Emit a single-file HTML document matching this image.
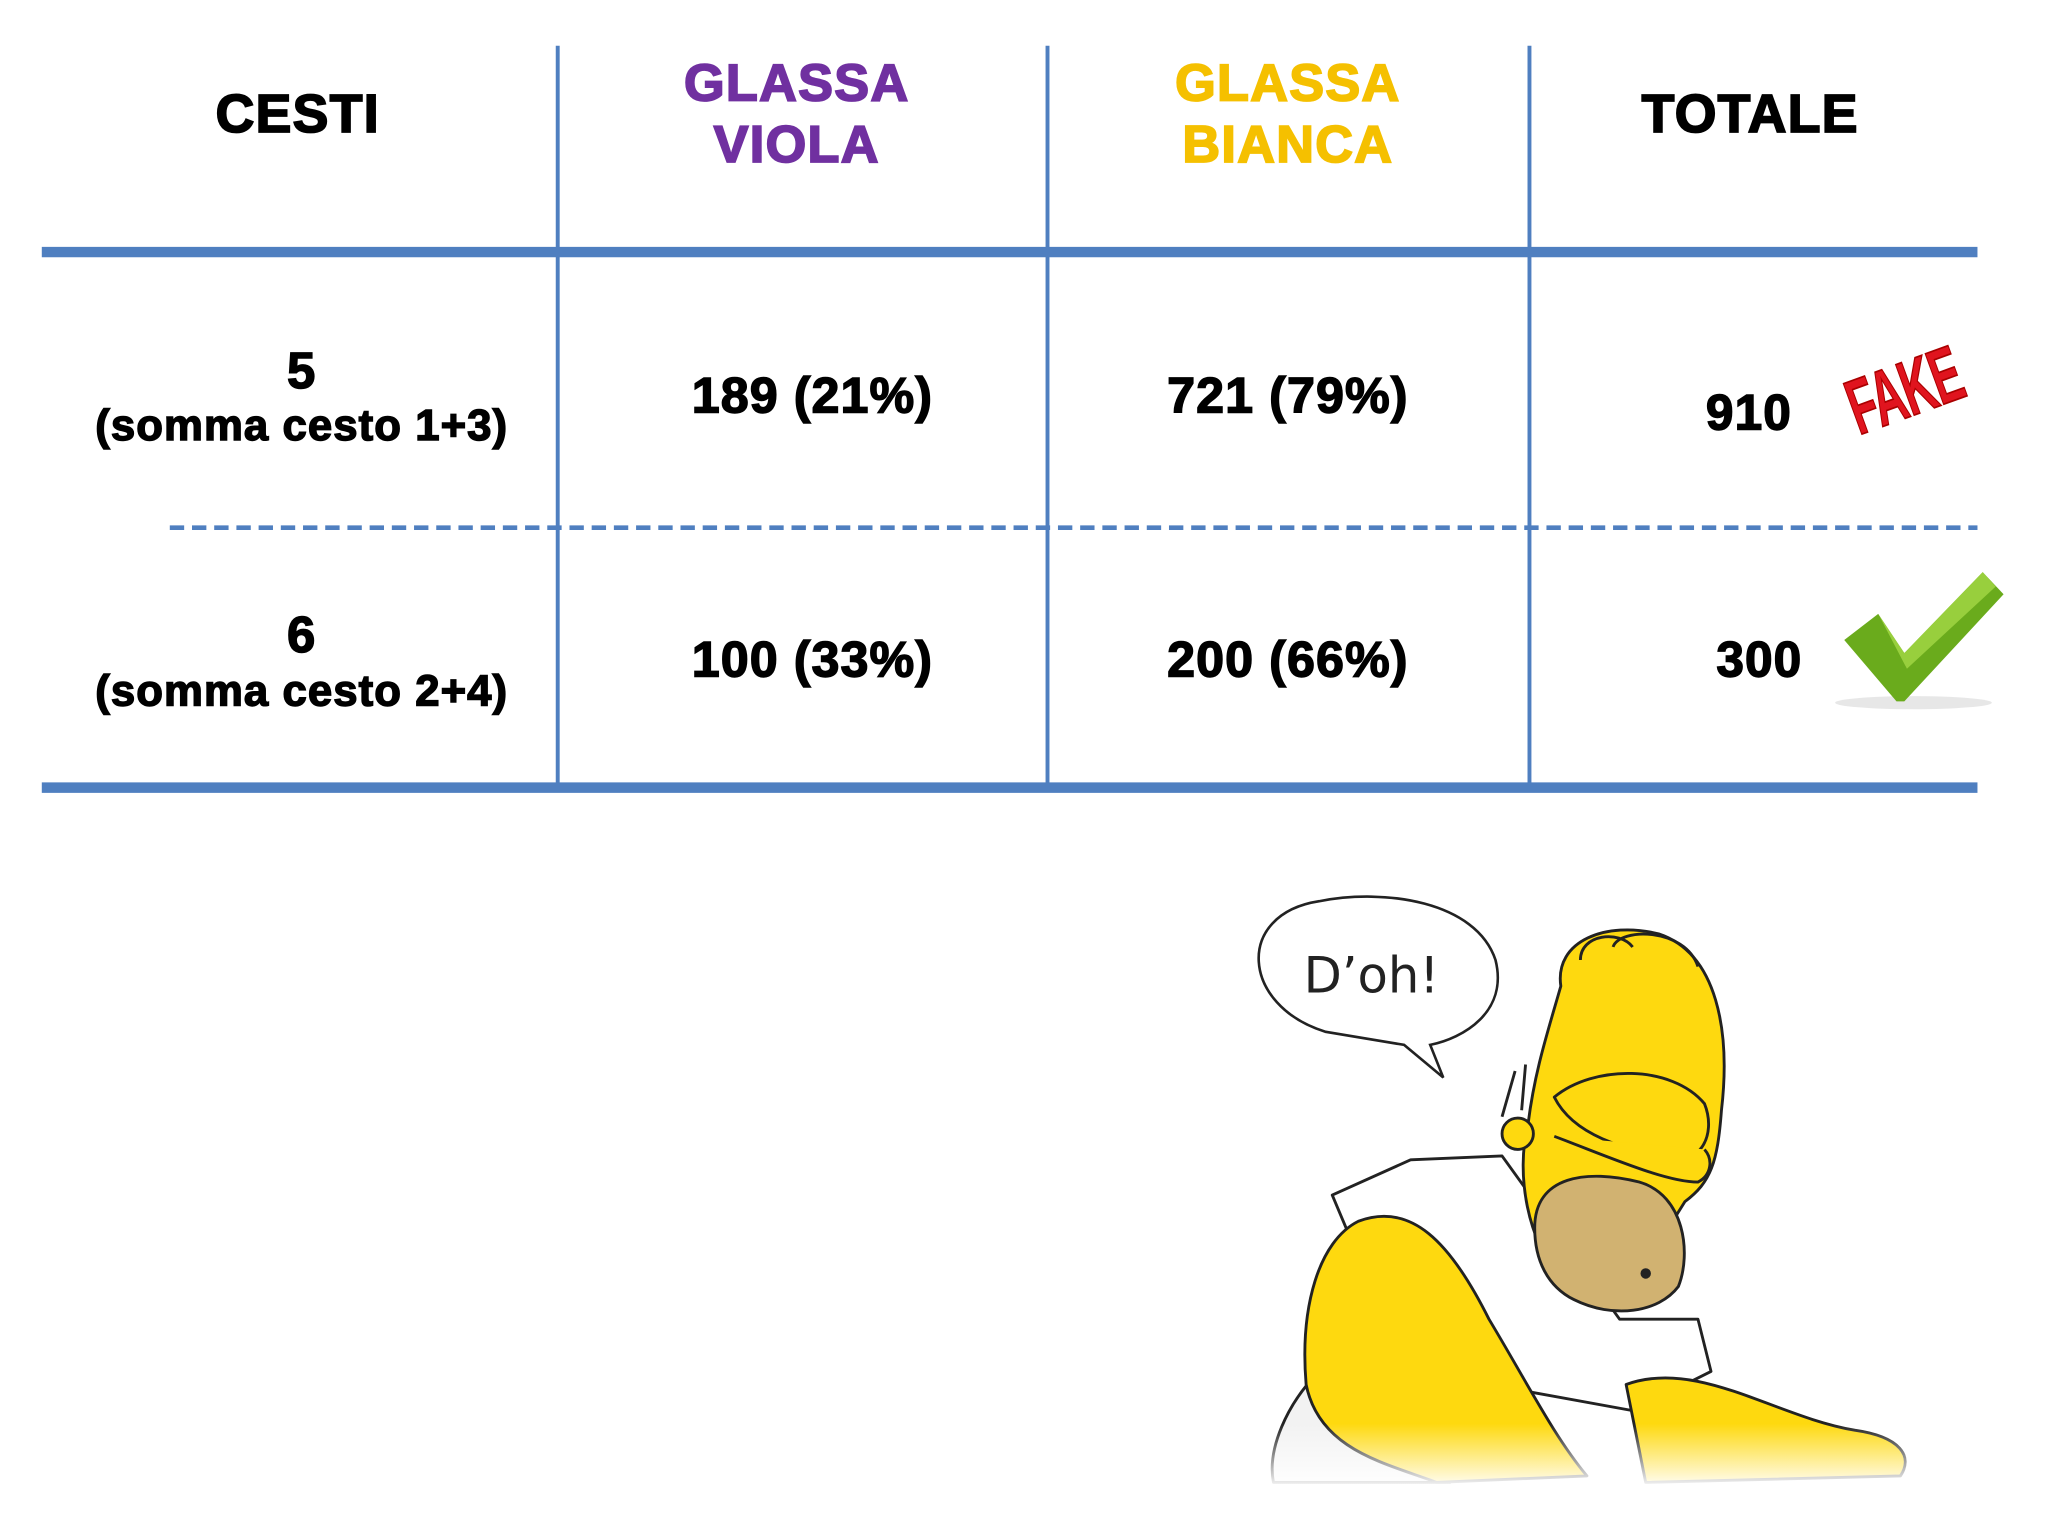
<!DOCTYPE html>
<html><head><meta charset="utf-8"><style>
html,body{margin:0;padding:0;background:#fff}
svg{display:block}
text{font-family:"Liberation Sans",Arial,sans-serif;font-weight:bold;text-anchor:middle}
</style></head><body>
<svg width="2048" height="1536" viewBox="0 0 1568 1176" preserveAspectRatio="none" xmlns="http://www.w3.org/2000/svg">
<rect width="1568" height="1176" fill="#fff"/>
<g stroke="#4f7fc0">
<line x1="427" y1="35" x2="427" y2="600" stroke-width="3"/>
<line x1="802" y1="35" x2="802" y2="600" stroke-width="3"/>
<line x1="1171" y1="35" x2="1171" y2="600" stroke-width="3"/>
<line x1="32" y1="193" x2="1514" y2="193" stroke-width="8"/>
<line x1="32" y1="603" x2="1514" y2="603" stroke-width="8"/>
<line x1="130" y1="404" x2="1514" y2="404" stroke-width="3.5" stroke-dasharray="11,6"/>
</g>
<g font-size="40" stroke-width="1.4" letter-spacing="1">
<text x="228" y="101" fill="#000" stroke="#000" font-size="41">CESTI</text>
<text x="610" y="77" fill="#7030a0" stroke="#7030a0">GLASSA</text>
<text x="610" y="124" fill="#7030a0" stroke="#7030a0">VIOLA</text>
<text x="986" y="77" fill="#f5c000" stroke="#f5c000">GLASSA</text>
<text x="986" y="124" fill="#f5c000" stroke="#f5c000">BIANCA</text>
<text x="1340" y="101" fill="#000" stroke="#000" font-size="41">TOTALE</text>
</g>
<g fill="#000" stroke="#000" stroke-width="1.1" letter-spacing="0.8">
<text x="231" y="297" font-size="39">5</text>
<text x="231" y="337" font-size="33.5">(somma cesto 1+3)</text>
<text x="622" y="316" font-size="38.5">189 (21%)</text>
<text x="986" y="316" font-size="38.5">721 (79%)</text>
<text x="1339" y="329" font-size="38">910</text>
<text x="231" y="499" font-size="39">6</text>
<text x="231" y="540" font-size="33.5">(somma cesto 2+4)</text>
<text x="622" y="518" font-size="38.5">100 (33%)</text>
<text x="986" y="518" font-size="38.5">200 (66%)</text>
<text x="1347" y="518" font-size="38">300</text>
</g>
<g transform="translate(1465,318) rotate(-20) scale(0.75,1.3)">
<text x="0" y="0" font-size="46" fill="#e0141e" stroke="#a00" stroke-width="1" letter-spacing="-1">FAKE</text>
</g>
<ellipse cx="1465" cy="538" rx="60" ry="5" fill="#ddd" opacity="0.7"/>
<path d="M1412 490 L1438 470 L1458 500 L1518 438 L1534 455 L1458 537 L1452 537 Z" fill="#6aab1c"/>
<path d="M1438 470 L1458 500 L1518 438 L1528 449 L1460 512 Z" fill="#a4d846" opacity="0.8"/>
<path d="M1015 790 C950 770 945 700 1010 690 C1060 680 1130 690 1145 735 C1155 775 1120 795 1095 800 L1105 825 L1075 800 Z" fill="#fff" stroke="#222" stroke-width="2"/>
<text x="1050" y="760" font-size="38" fill="#222" style="font-family:'DejaVu Sans',sans-serif;font-weight:normal">D’oh!</text>
<defs><linearGradient id="fade" x1="0" y1="0" x2="0" y2="1"><stop offset="0" stop-color="#fff" stop-opacity="0"/><stop offset="1" stop-color="#fff" stop-opacity="1"/></linearGradient></defs>
<g stroke="#222" stroke-width="2.2" stroke-linejoin="round">
<path d="M1010 1050 C985 1075 970 1110 975 1135 L1110 1135 L1060 1040 Z" fill="#f2f2f2"/>
<path d="M1020 915 L1080 888 L1150 885 L1240 1010 L1300 1010 L1310 1050 L1250 1080 L1140 1060 L1060 1010 Z" fill="#fff"/>
<path d="M1040 935 C1080 920 1110 950 1140 1010 C1170 1060 1190 1100 1215 1130 L1100 1135 C1060 1120 1010 1110 1000 1060 C995 1000 1010 950 1040 935 Z" fill="#fed90f"/>
<path d="M1195 755 C1190 720 1230 705 1270 715 C1315 730 1325 790 1318 850 C1315 890 1310 905 1290 920 L1240 1000 L1195 980 C1170 950 1160 900 1170 860 C1175 820 1185 790 1195 755 Z" fill="#fed90f"/>
<path d="M1210 735 C1210 715 1240 712 1250 725 M1235 725 C1240 710 1290 710 1300 740" fill="none"/>
<path d="M1160 820 L1150 855 M1168 815 L1165 850" fill="none"/>
<circle cx="1162" cy="868" r="12" fill="#fed90f"/>
<path d="M1175 940 C1175 900 1215 895 1255 905 C1290 915 1295 960 1285 985 C1270 1005 1235 1010 1205 995 C1185 985 1175 965 1175 940 Z" fill="#d1b271"/>
<circle cx="1260" cy="975" r="4" fill="#222" stroke="none"/>
<path d="M1190 840 C1220 815 1280 815 1305 845 C1315 870 1300 895 1275 885 C1245 880 1205 870 1190 840 Z" fill="#fed90f"/>
<path d="M1190 870 C1230 885 1275 905 1300 905 C1310 900 1312 888 1305 880" fill="#fed90f"/>
<path d="M1245 1060 C1300 1040 1360 1085 1420 1095 C1455 1100 1465 1115 1455 1130 L1260 1135 Z" fill="#fed90f"/>
</g>
<rect x="960" y="1090" width="520" height="50" fill="url(#fade)"/>
</svg>
</body></html>
